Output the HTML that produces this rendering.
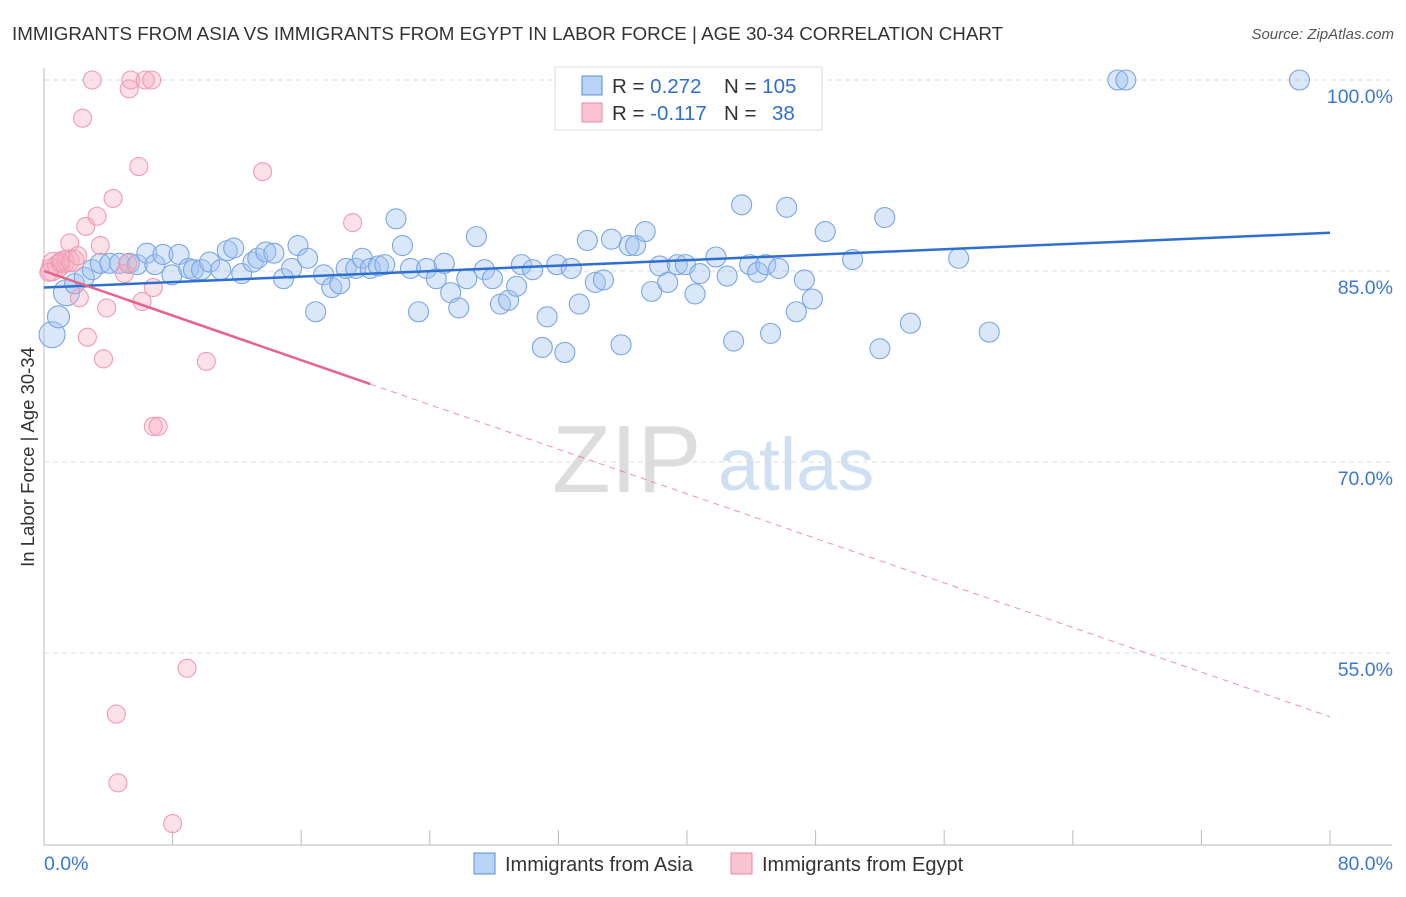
<!DOCTYPE html>
<html><head><meta charset="utf-8"><style>
body{margin:0;background:#fff;font-family:"Liberation Sans",sans-serif}
svg text{font-family:"Liberation Sans",sans-serif}
</style></head><body>
<svg id="c" width="1406" height="892" xmlns="http://www.w3.org/2000/svg">
<text x="12" y="40" font-size="18.8" fill="#333">IMMIGRANTS FROM ASIA VS IMMIGRANTS FROM EGYPT IN LABOR FORCE | AGE 30-34 CORRELATION CHART</text>
<text x="1394" y="39" font-size="15" fill="#555" font-style="italic" text-anchor="end">Source: ZipAtlas.com</text>
<g>
<text x="552" y="492" font-size="96" fill="#ddd" font-family="Liberation Serif">ZIP</text>
<text x="718" y="490" font-size="74" fill="#cfe0f3">atlas</text></g>
<g id="grid"></g><g id="axes"></g><g id="pts"></g><g id="trend"></g>
<text transform="translate(34,457) rotate(-90)" font-size="18.5" fill="#333" text-anchor="middle">In Labor Force | Age 30-34</text>
<g>
<rect x="555" y="67" width="267" height="63" fill="#fff" stroke="#ddd"/>
<rect x="582" y="76" width="20" height="19" fill="#b8d3f5" stroke="#5b8fd9"/>
<rect x="582" y="103" width="20" height="19" fill="#f9c4d2" stroke="#e88aa6"/>
<text x="612" y="93" font-size="20.5" fill="#333">R = <tspan fill="#2f6fd0">0.272</tspan><tspan x="724">N = </tspan><tspan fill="#2f6fd0">105</tspan></text>
<text x="612" y="120" font-size="20.5" fill="#333">R = <tspan fill="#2f6fd0">-0.117</tspan><tspan x="724">N = </tspan><tspan x="772" fill="#2f6fd0">38</tspan></text>
</g>
<g>
<rect x="474" y="853" width="21" height="21" fill="#b8d3f5" stroke="#5b8fd9"/>
<text x="505" y="871" font-size="20" fill="#333">Immigrants from Asia</text>
<rect x="731" y="853" width="21" height="21" fill="#f9c4d2" stroke="#e88aa6"/>
<text x="762" y="871" font-size="20" fill="#333">Immigrants from Egypt</text>
</g>
</svg>
<script>
const asiaX=[0.5,0.9,1.4,1.9,2.5,3.0,3.5,4.1,4.7,5.3,5.8,6.4,6.9,7.4,7.96,8.4,9.0,9.3,9.8,10.3,11.0,11.4,11.8,12.3,13.0,13.3,13.8,14.3,14.9,15.4,15.8,16.4,16.9,17.4,17.9,18.4,18.8,19.4,19.8,20.3,20.8,21.2,21.9,22.3,22.8,23.3,23.8,24.4,24.9,25.3,25.8,26.3,26.9,27.4,27.9,28.4,28.9,29.4,29.7,30.4,31.0,31.3,31.9,32.4,32.8,33.3,33.8,34.3,34.8,35.3,35.9,36.4,36.8,37.4,37.8,38.3,38.8,39.4,39.9,40.5,40.8,41.8,42.5,42.9,43.4,43.9,44.4,44.9,45.2,45.7,46.2,46.8,47.3,47.8,48.6,50.3,52.0,52.3,53.9,56.9,58.8,66.8,67.3,78.1];
const asiaY=[80.0,81.4,83.3,84.0,84.5,85.1,85.6,85.6,85.6,85.6,85.5,86.4,85.5,86.3,84.7,86.3,85.2,85.1,85.1,85.7,85.1,86.6,86.8,84.8,85.7,86.0,86.5,86.4,84.4,85.2,87.0,86.0,81.8,84.7,83.7,84.0,85.2,85.2,86.0,85.2,85.4,85.5,89.1,87.0,85.2,81.8,85.2,84.4,85.6,83.3,82.1,84.4,87.7,85.1,84.4,82.4,82.7,83.8,85.5,85.1,79.0,81.4,85.5,78.6,85.2,82.4,87.4,84.1,84.3,87.5,79.2,87.0,87.0,88.1,83.4,85.4,84.1,85.5,85.5,83.2,84.8,86.1,84.6,79.5,90.2,85.5,84.9,85.5,80.1,85.2,90.0,81.8,84.3,82.8,88.1,85.9,78.9,89.2,80.9,86.0,80.2,100,100,100];
const egyptX=[0.5,0.6,0.9,1.2,1.5,1.8,1.0,1.6,2.1,2.2,2.6,2.7,3.0,3.3,3.5,3.7,3.9,4.3,4.5,4.6,5.0,5.2,5.3,5.4,5.9,6.1,6.3,6.7,6.8,7.1,6.8,8.0,8.9,10.1,13.6,19.2,2.4,0.3];
const egyptY=[85.1,85.6,85.4,85.7,85.8,85.8,85.7,87.2,86.2,82.9,88.5,79.8,100,89.3,87.0,78.1,82.1,90.7,50.2,44.8,84.8,85.6,99.3,100,93.2,82.6,100,100,72.8,72.8,83.7,41.6,53.8,77.9,92.8,88.8,97.0,84.9];
const asiaTrend=[83.7,88.0]; // at x=0 and x=80
const egyptTrend=[85.0,50.0];
const yTicks=[100,85,70,55];
const NS="http://www.w3.org/2000/svg";
const X=v=>44+v/80*1286, Y=v=>80+(100-v)*12.733;
function mk(p,t,a){const e=document.createElementNS(NS,t);for(const k in a)e.setAttribute(k,a[k]);document.getElementById(p).appendChild(e);return e;}
yTicks.forEach(t=>{
 const l=mk('grid','line',{x1:44,x2:1392,y1:Y(t),y2:Y(t),stroke:'#ddd','stroke-dasharray':'5,4'});
 
 
 const tx=mk('grid','text',{x:1393,y:Y(t)+23,'font-size':19.5,fill:'#3a78d4','text-anchor':'end'});
 tx.textContent=t.toFixed(1)+'%';
 
 
});
let a=mk('axes','line',{x1:44,x2:44,y1:68,y2:845,stroke:'#bbb'});


a=mk('axes','line',{x1:44,x2:1392,y1:845,y2:845,stroke:'#bbb'});


for(let i=0;i<=10;i++){const t=mk('axes','line',{x1:X(i*8),x2:X(i*8),y1:830,y2:845,stroke:'#bbb'});
 
 }
let xt=mk('axes','text',{x:44,y:870,'font-size':19.5,fill:'#3a78d4'});xt.textContent='0.0%';


xt=mk('axes','text',{x:1393,y:870,'font-size':19.5,fill:'#3a78d4','text-anchor':'end'});xt.textContent='80.0%';


asiaX.forEach((x,i)=>{const r=i<3?(i==1?11:13):10;
 const c=mk('pts','circle',{cx:X(x),cy:Y(asiaY[i]),r:r,fill:'rgba(160,196,240,0.4)',stroke:'#7aa6e3','stroke-width':1.1});
 
 });
egyptX.forEach((x,i)=>{
 const c=mk('pts','circle',{cx:X(x),cy:Y(egyptY[i]),r:i<6?11:9,fill:'rgba(245,170,190,0.35)',stroke:'#ee9bb4','stroke-width':1.1});
 
 });
let l=mk('trend','line',{x1:X(0),y1:Y(asiaTrend[0]),x2:X(80),y2:Y(asiaTrend[1]),stroke:'#2f6fd0','stroke-width':2.5});


const ey=x=>egyptTrend[0]+(egyptTrend[1]-egyptTrend[0])*x/80;
l=mk('trend','line',{x1:X(0),y1:Y(ey(0)),x2:X(20.3),y2:Y(ey(20.3)),stroke:'#e8638c','stroke-width':2.5});


l=mk('trend','line',{x1:X(20.3),y1:Y(ey(20.3)),x2:X(80),y2:Y(ey(80)),stroke:'#e8638c','stroke-width':1,'stroke-dasharray':'6,5','opacity':0.7});


</script>
</body></html>
